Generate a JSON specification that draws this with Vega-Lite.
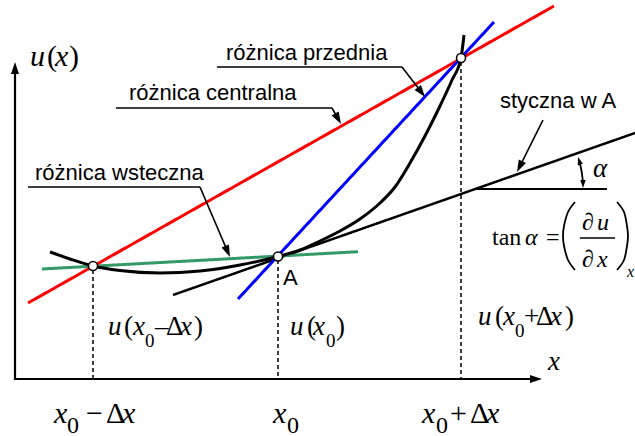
{
  "$schema": "https://vega.github.io/schema/vega-lite/v6.json",
  "width": 635,
  "height": 436,
  "autosize": "none",
  "padding": 0,
  "background": "white",
  "config": {"view": {"stroke": null}},
  "datasets": {
    "segs": [
      {"g":"ya","k":"axis","x":15,"y":380,"o":1},{"g":"ya","k":"axis","x":15,"y":68,"o":2},
      {"g":"xa","k":"axis","x":14,"y":379,"o":1},{"g":"xa","k":"axis","x":536,"y":379,"o":2},
      {"g":"hz","k":"axis","x":474,"y":189,"o":1},{"g":"hz","k":"axis","x":607,"y":189,"o":2},
      {"g":"d1","k":"dash","x":93,"y":270,"o":1},{"g":"d1","k":"dash","x":93,"y":378,"o":2},
      {"g":"d2","k":"dash","x":278,"y":260,"o":1},{"g":"d2","k":"dash","x":278,"y":378,"o":2},
      {"g":"d3","k":"dash","x":461,"y":62,"o":1},{"g":"d3","k":"dash","x":461,"y":378,"o":2},
      {"g":"tg","k":"tan","x":173,"y":295,"o":1},{"g":"tg","k":"tan","x":635,"y":133,"o":2},
      {"g":"gr","k":"green","x":42,"y":269,"o":1},{"g":"gr","k":"green","x":358,"y":251.7,"o":2},
      {"g":"rd","k":"red","x":28,"y":303,"o":1},{"g":"rd","k":"red","x":554,"y":6,"o":2},
      {"g":"bl","k":"blue","x":238,"y":299,"o":1},{"g":"bl","k":"blue","x":494,"y":22,"o":2},
      {"g":"l1","k":"lead","x":217,"y":67,"o":1},{"g":"l1","k":"lead","x":402,"y":67,"o":2},{"g":"l1","k":"lead","x":421.4,"y":92.2,"o":3},
      {"g":"l2","k":"lead","x":116,"y":108,"o":1},{"g":"l2","k":"lead","x":332,"y":108,"o":2},{"g":"l2","k":"lead","x":338.1,"y":118.8,"o":3},
      {"g":"l3","k":"lead","x":28,"y":187,"o":1},{"g":"l3","k":"lead","x":200,"y":187,"o":2},{"g":"l3","k":"lead","x":227.6,"y":251.5,"o":3},
      {"g":"l4","k":"lead","x":543,"y":120,"o":1},{"g":"l4","k":"lead","x":519.7,"y":166.6,"o":2},
      {"g":"fb","k":"lead","x":580,"y":238,"o":1},{"g":"fb","k":"lead","x":615,"y":238,"o":2}
    ],
    "curve": [
      {"x":50,"y":252},{"x":70,"y":259},{"x":93,"y":266},{"x":120,"y":270.5},{"x":160,"y":273},
      {"x":200,"y":271},{"x":240,"y":265},{"x":278,"y":256.5},{"x":300,"y":250},{"x":320,"y":241},
      {"x":340,"y":231},{"x":360,"y":219},{"x":380,"y":203},{"x":395,"y":187},{"x":410,"y":163},
      {"x":425,"y":136},{"x":440,"y":106},{"x":452,"y":80},{"x":461,"y":58},{"x":464,"y":35}
    ],
    "arcs": [
      {"g":"al","x":583,"y":184,"o":1},{"g":"al","x":582.5,"y":178,"o":2},{"g":"al","x":581.5,"y":171,"o":3},{"g":"al","x":580.3,"y":165,"o":4},{"g":"al","x":579.2,"y":161,"o":5},
      {"g":"pl","x":575,"y":202,"o":1},{"g":"pl","x":568,"y":212,"o":2},{"g":"pl","x":564,"y":226,"o":3},{"g":"pl","x":563,"y":236,"o":4},{"g":"pl","x":564,"y":246,"o":5},{"g":"pl","x":568,"y":260,"o":6},{"g":"pl","x":575,"y":270,"o":7},
      {"g":"pr","x":617,"y":202,"o":1},{"g":"pr","x":624,"y":212,"o":2},{"g":"pr","x":627,"y":226,"o":3},{"g":"pr","x":628,"y":236,"o":4},{"g":"pr","x":627,"y":246,"o":5},{"g":"pr","x":624,"y":260,"o":6},{"g":"pr","x":617,"y":270,"o":7}
    ],
    "heads": [
      {"x":15,"y":68,"a":0,"k":"big"},
      {"x":536,"y":379,"a":90,"k":"big"},
      {"x":421.4,"y":92.2,"a":142.6,"k":"big"},
      {"x":338.1,"y":118.8,"a":150.6,"k":"big"},
      {"x":227.6,"y":251.5,"a":156.8,"k":"big"},
      {"x":519.7,"y":166.6,"a":206.6,"k":"big"},
      {"x":579.2,"y":160.8,"a":-16.9,"k":"small"},
      {"x":583,"y":184,"a":180,"k":"small"}
    ],
    "dots": [
      {"x":93,"y":266},{"x":278,"y":256.5},{"x":461,"y":58}
    ],
    "sans": [
      {"t":"różnica przednia","x":226,"y":60,"r":"l"},
      {"t":"różnica centralna","x":129,"y":100,"r":"l"},
      {"t":"różnica wsteczna","x":35,"y":180,"r":"l"},
      {"t":"styczna w A","x":500,"y":108,"r":"l"},
      {"t":"A","x":283,"y":285,"r":"a"}
    ],
    "ital": [
      {"t":"u","x":30,"y":66,"r":"t"},{"t":"x","x":55,"y":66,"r":"t"},
      {"t":"x","x":548,"y":370,"r":"m"},
      {"t":"α","x":593,"y":177,"r":"m"},
      {"t":"u","x":108,"y":335,"r":"m"},{"t":"x","x":133,"y":335,"r":"m"},{"t":"x","x":180,"y":335,"r":"m"},
      {"t":"u","x":290,"y":335,"r":"m"},{"t":"x","x":313,"y":335,"r":"m"},
      {"t":"u","x":478,"y":325,"r":"m"},{"t":"x","x":503,"y":325,"r":"m"},{"t":"x","x":550,"y":325,"r":"m"},
      {"t":"x","x":54,"y":423,"r":"b"},{"t":"x","x":122,"y":423,"r":"b"},
      {"t":"x","x":273,"y":423,"r":"b"},
      {"t":"x","x":422,"y":423,"r":"b"},{"t":"x","x":486,"y":423,"r":"b"},
      {"t":"α","x":525,"y":245,"r":"f"},
      {"t":"u","x":597,"y":230,"r":"f"},{"t":"x","x":597,"y":267,"r":"f"},
      {"t":"x","x":627,"y":277,"r":"fs"}
    ],
    "upr": [
      {"t":"(","x":47,"y":66,"r":"t"},{"t":")","x":69,"y":66,"r":"t"},
      {"t":"(","x":124,"y":335,"r":"m"},{"t":"0","x":145,"y":347,"r":"s"},{"t":"–","x":155,"y":335,"r":"m"},{"t":"Δ","x":166,"y":335,"r":"m"},{"t":")","x":194,"y":335,"r":"m"},
      {"t":"(","x":307,"y":335,"r":"m"},{"t":"0","x":326,"y":347,"r":"s"},{"t":")","x":336,"y":335,"r":"m"},
      {"t":"(","x":495,"y":325,"r":"m"},{"t":"0","x":515,"y":337,"r":"s"},{"t":"+","x":524,"y":325,"r":"m"},{"t":"Δ","x":536,"y":325,"r":"m"},{"t":")","x":565,"y":325,"r":"m"},
      {"t":"0","x":67,"y":433,"r":"bs"},{"t":"−","x":86,"y":423,"r":"b"},{"t":"Δ","x":106,"y":423,"r":"b"},
      {"t":"0","x":287,"y":433,"r":"bs"},
      {"t":"0","x":436,"y":433,"r":"bs"},{"t":"+","x":450,"y":423,"r":"b"},{"t":"Δ","x":470,"y":423,"r":"b"},
      {"t":"tan","x":492,"y":245,"r":"f"},{"t":"=","x":546,"y":245,"r":"f"},
      {"t":"∂","x":582,"y":230,"r":"f"},{"t":"∂","x":582,"y":267,"r":"f"}
    ]
  },
  "encoding": {
    "x": {"field": "x", "type": "quantitative", "scale": {"domain": [0, 635], "nice": false, "zero": false}, "axis": null},
    "y": {"field": "y", "type": "quantitative", "scale": {"domain": [0, 436], "nice": false, "zero": false, "reverse": true}, "axis": null}
  },
  "layer": [
    {
      "data": {"name": "segs"},
      "mark": {"type": "line", "interpolate": "linear", "strokeCap": "butt"},
      "encoding": {
        "detail": {"field": "g"},
        "order": {"field": "o", "type": "quantitative"},
        "color": {"field": "k", "type": "nominal", "legend": null,
          "scale": {"domain": ["axis","red","blue","green","tan","lead","dash"], "range": ["#000000","#ff0000","#0000ff","#339966","#000000","#000000","#000000"]}},
        "strokeWidth": {"field": "k", "type": "nominal", "legend": null,
          "scale": {"type": "ordinal", "domain": ["axis","red","blue","green","tan","lead","dash"], "range": [2.2,3,3,3,2.5,1.6,1.5]}},
        "strokeDash": {"field": "k", "type": "nominal", "legend": null,
          "scale": {"domain": ["axis","red","blue","green","tan","lead","dash"], "range": [[1,0],[1,0],[1,0],[1,0],[1,0],[1,0],[4,3]]}}
      }
    },
    {
      "data": {"name": "curve"},
      "mark": {"type": "line", "interpolate": "monotone", "color": "black", "strokeWidth": 3},
      "encoding": {}
    },
    {
      "data": {"name": "arcs"},
      "mark": {"type": "line", "interpolate": "cardinal", "color": "black", "strokeWidth": 1.8},
      "encoding": {
        "detail": {"field": "g"},
        "order": {"field": "o", "type": "quantitative"}
      }
    },
    {
      "data": {"name": "heads"},
      "mark": {"type": "point", "shape": "M0,-1L0.67,1L-0.67,1Z", "filled": true, "color": "black", "opacity": 1, "strokeWidth": 0},
      "encoding": {
        "angle": {"field": "a", "type": "quantitative", "scale": null},
        "size": {"field": "k", "type": "nominal", "legend": null,
          "scale": {"type": "ordinal", "domain": ["big","small"], "range": [144, 64]}}
      }
    },
    {
      "data": {"name": "dots"},
      "mark": {"type": "point", "shape": "circle", "filled": true, "fill": "white", "stroke": "black", "strokeWidth": 1.5, "size": 81, "opacity": 1},
      "encoding": {}
    },
    {
      "data": {"name": "sans"},
      "mark": {"type": "text", "font": "Liberation Sans", "align": "left", "baseline": "alphabetic", "color": "black"},
      "encoding": {
        "text": {"field": "t"},
        "size": {"field": "r", "type": "nominal", "legend": null, "scale": {"type": "ordinal", "domain": ["l","a"], "range": [22, 22]}}
      }
    },
    {
      "data": {"name": "ital"},
      "mark": {"type": "text", "font": "Liberation Serif", "fontStyle": "italic", "align": "left", "baseline": "alphabetic", "color": "black"},
      "encoding": {
        "text": {"field": "t"},
        "size": {"field": "r", "type": "nominal", "legend": null, "scale": {"type": "ordinal", "domain": ["t","m","b","s","bs","f","fs"], "range": [30, 27, 30, 19, 24, 24, 16]}}
      }
    },
    {
      "data": {"name": "upr"},
      "mark": {"type": "text", "font": "Liberation Serif", "align": "left", "baseline": "alphabetic", "color": "black"},
      "encoding": {
        "text": {"field": "t"},
        "size": {"field": "r", "type": "nominal", "legend": null, "scale": {"type": "ordinal", "domain": ["t","m","b","s","bs","f","fs"], "range": [30, 27, 30, 19, 24, 24, 16]}}
      }
    }
  ],
  "resolve": {"scale": {"size": "independent", "color": "independent", "strokeWidth": "independent"}}
}
